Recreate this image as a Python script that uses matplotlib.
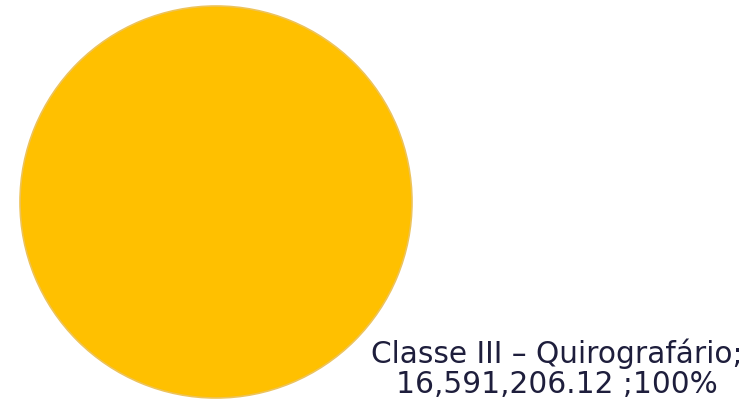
import matplotlib.pyplot as plt

# single class of creditors -> one full slice
labels = ["Classe III – Quirografário"]
values = [16591206.12]
shares = [100]
colors = ["#FFC000"]

fig = plt.figure(figsize=(7.54, 4.01), dpi=100)
ax = fig.add_axes([0, 0, 1, 1])

ax.pie(values, colors=colors, radius=196, center=(216, 199), startangle=90,
       counterclock=False, frame=True,
       wedgeprops=dict(linewidth=1.2, edgecolor="#EDC35A"))
ax.set_xlim(0, 754)
ax.set_ylim(0, 401)
ax.set_aspect("equal")
ax.axis("off")

txt = "{};\n{:,.2f} ;{}%".format(labels[0], values[0], shares[0])
ax.text(557, 32, txt, ha="center", va="center", fontsize=21.3,
        color="#1E1E3C", family="DejaVu Sans", linespacing=1.04)

fig.savefig("out.png", dpi=100)
